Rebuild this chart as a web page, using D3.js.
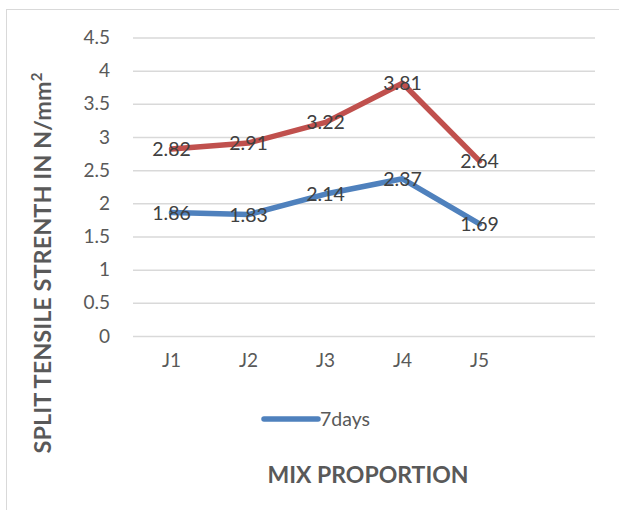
<!DOCTYPE html>
<html>
<head>
<meta charset="utf-8">
<script src="https://cdn.jsdelivr.net/npm/d3@7"></script>
<style>
  html, body { margin: 0; padding: 0; background: #fff; }
  svg { display: block; font-family: Lato, "Open Sans", sans-serif; }
</style>
</head>
<body>
<svg id="chart" width="619" height="510"></svg>
<script>
// Mix proportions (one trailing empty slot on the category axis)
const categories = ["J1", "J2", "J3", "J4", "J5", ""];
const mixes = ["J1", "J2", "J3", "J4", "J5"];
const days7 = [1.86, 1.83, 2.14, 2.37, 1.69];
const days28 = [2.82, 2.91, 3.22, 3.81, 2.64];
const yTicks = [0, 0.5, 1, 1.5, 2, 2.5, 3, 3.5, 4, 4.5];

const svg = d3.select("#chart");
const plot = { left: 133, right: 595, top: 37.5, bottom: 336 };

// Outer chart frame
svg.append("rect")
  .attr("x", 6.5).attr("y", 9.5)
  .attr("width", 640).attr("height", 540)
  .attr("fill", "#fff").attr("stroke", "#D9D9D9").attr("stroke-width", 1);

const x = d3.scaleBand().domain(categories).range([plot.left, plot.right]);
const y = d3.scaleLinear().domain([0, 4.5]).range([plot.bottom, plot.top]);

// Horizontal gridlines + value axis labels
const yAxis = d3.axisLeft(y).tickValues(yTicks).tickSize(-(plot.right - plot.left))
  .tickPadding(23).tickFormat(d3.format("~g"));
const gy = svg.append("g").attr("transform", `translate(${plot.left},0)`).call(yAxis);
gy.select(".domain").remove();
gy.selectAll(".tick line").attr("stroke", "#D9D9D9").attr("stroke-width", 1.5);
gy.selectAll(".tick text").attr("fill", "#595959").attr("font-size", 19)
  .attr("font-family", "Lato, sans-serif");

// Category axis labels
const xAxis = d3.axisBottom(x).tickSize(0).tickPadding(18);
const gx = svg.append("g").attr("transform", `translate(0,${plot.bottom})`).call(xAxis);
gx.select(".domain").remove();
gx.selectAll(".tick text").attr("fill", "#595959").attr("font-size", 19)
  .attr("font-family", "Lato, sans-serif");

const cx = d => x(d) + x.bandwidth() / 2;
const line = d3.line().x(d => cx(d.cat)).y(d => y(d.v));

const series = [
  { name: "28days", values: days28, color: "#C0504D" },
  { name: "7days", values: days7, color: "#4F81BD" }
];

series.forEach(s => {
  const pts = mixes.map((c, i) => ({ cat: c, v: s.values[i] }));
  svg.append("path").datum(pts)
    .attr("d", line).attr("fill", "none")
    .attr("stroke", s.color).attr("stroke-width", 5.5)
    .attr("stroke-linejoin", "round").attr("stroke-linecap", "round");
});

// Data labels centred on each point
series.forEach(s => {
  svg.append("g").selectAll("text")
    .data(mixes.map((c, i) => ({ cat: c, v: s.values[i] })))
    .join("text")
    .attr("x", d => cx(d.cat)).attr("y", d => y(d.v))
    .attr("dy", "0.36em").attr("text-anchor", "middle")
    .attr("fill", "#404040").attr("font-size", 19.5)
    .text(d => d.v.toFixed(2));
});

// Legend
const lg = svg.append("g").attr("transform", "translate(264,419)");
lg.append("line").attr("x1", 0).attr("x2", 54).attr("y1", 0).attr("y2", 0)
  .attr("stroke", "#4F81BD").attr("stroke-width", 5.5).attr("stroke-linecap", "round");
lg.append("text").attr("x", 56).attr("y", 0).attr("dy", "0.36em")
  .attr("fill", "#595959").attr("font-size", 19.5).text("7days");

// Axis titles
svg.append("text").attr("x", 368).attr("y", 483)
  .attr("text-anchor", "middle").attr("fill", "#595959")
  .attr("font-size", 23).attr("font-weight", "bold").text("MIX PROPORTION");

svg.append("text")
  .attr("transform", "translate(51,263) rotate(-90)")
  .attr("text-anchor", "middle").attr("fill", "#595959")
  .attr("font-size", 23.5).attr("font-weight", "bold")
  .html('SPLIT TENSILE STRENTH IN N/mm<tspan baseline-shift="super" font-size="15">2</tspan>');
</script>
</body>
</html>
